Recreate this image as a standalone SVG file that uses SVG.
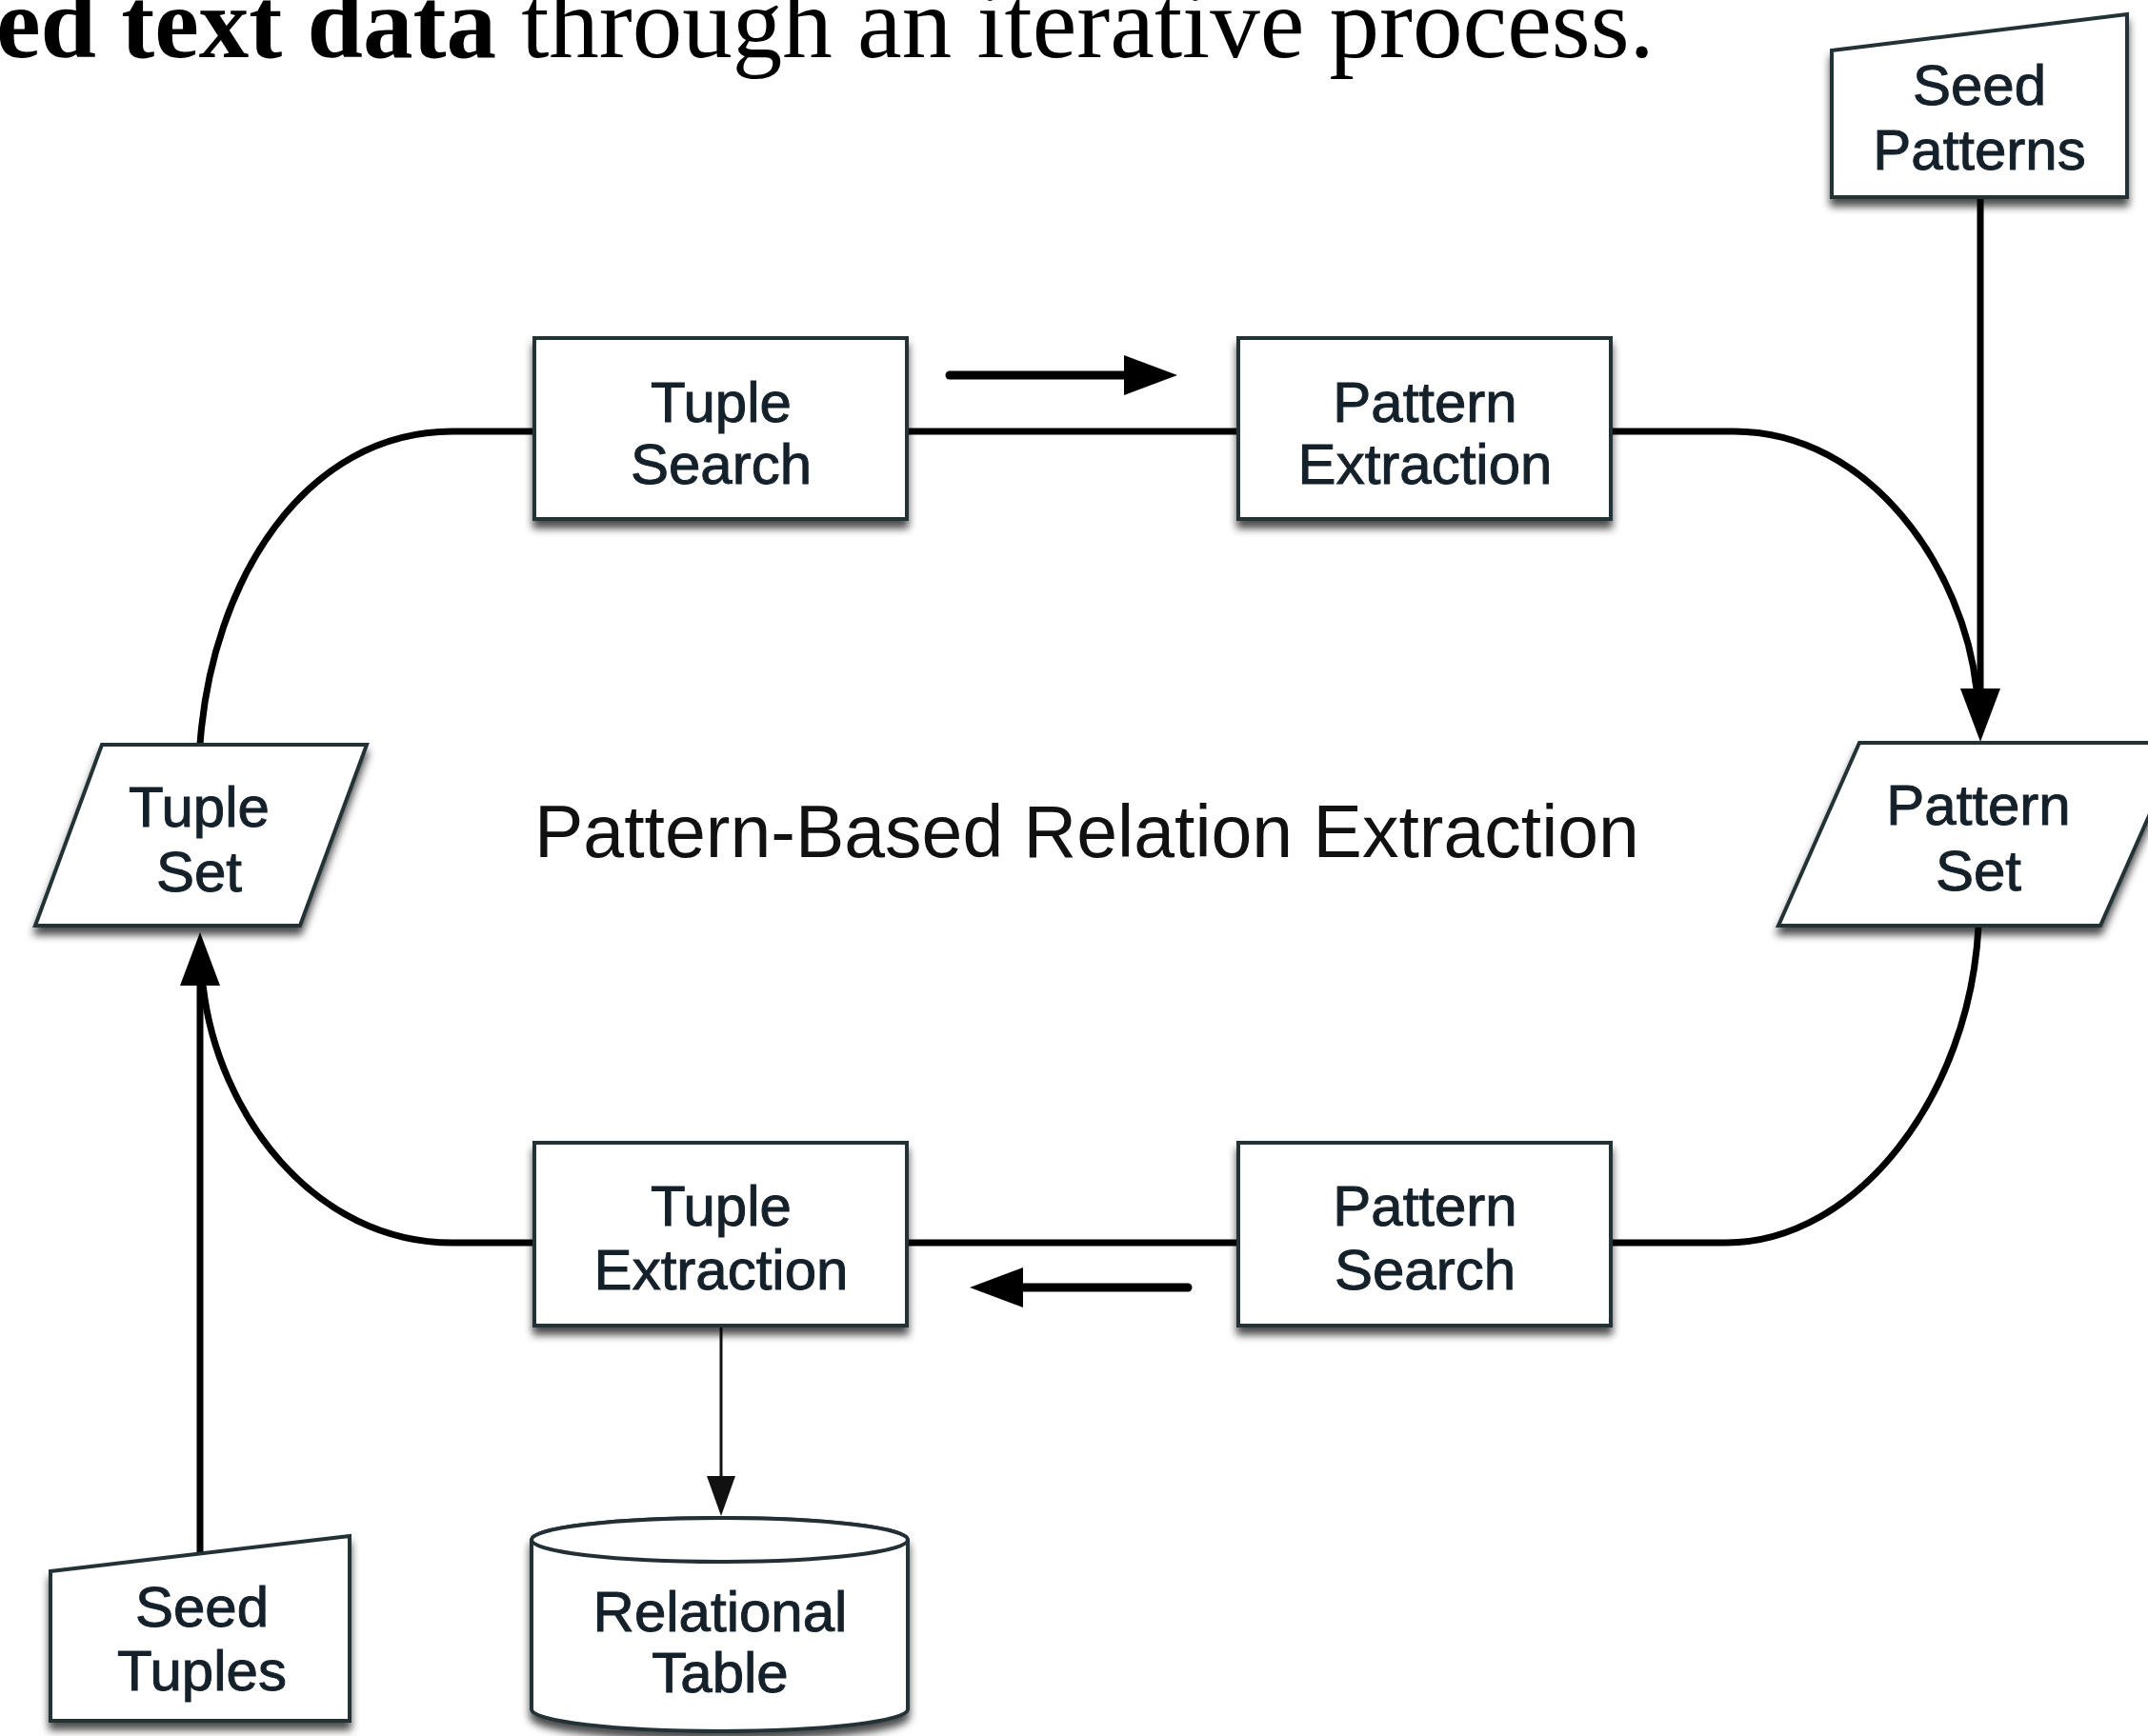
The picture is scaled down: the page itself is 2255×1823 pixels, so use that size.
<svg xmlns="http://www.w3.org/2000/svg" width="2255" height="1823" viewBox="0 0 2255 1823">
<defs>
<style>
.node{fill:#fff;stroke:#223036;stroke-width:4;stroke-linejoin:miter;filter:url(#sh)}
.lbl{font-family:"Liberation Sans",Arial,sans-serif;font-size:60px;fill:#15212a;stroke:#15212a;stroke-width:1;text-anchor:middle}
.conn{fill:none;stroke:#000;stroke-width:7}
.deco{fill:none;stroke:#000;stroke-width:9;stroke-linecap:round}
.thin{fill:none;stroke:#111;stroke-width:3}
</style>
<filter id="sh" x="-10%" y="-10%" width="120%" height="130%">
<feDropShadow dx="0" dy="8" stdDeviation="4" flood-color="#000" flood-opacity="0.7"/>
</filter>
<marker id="ah" markerUnits="userSpaceOnUse" viewBox="0 0 56 42" markerWidth="56" markerHeight="42" refX="35" refY="21" orient="auto">
<path d="M0,0 L56,21 L0,42 z" fill="#000"/>
</marker>
<marker id="as" markerUnits="userSpaceOnUse" viewBox="0 0 42 30" markerWidth="42" markerHeight="30" refX="22" refY="15" orient="auto">
<path d="M0,0 L42,15 L0,30 z" fill="#111"/>
</marker>
</defs>
<rect width="2255" height="1823" fill="#fff"/>

<text x="-4" y="60" font-family="'Liberation Serif','Times New Roman',serif" font-size="105" fill="#000"><tspan font-weight="bold">ed text data</tspan> through an iterative process.</text>

<text x="561" y="900" font-family="'Liberation Sans',Arial,sans-serif" font-size="77" fill="#111">Pattern-Based Relation Extraction</text>

<g id="connectors">
<path class="conn" d="M210,782 C222,610 320,453 475,453 L561,453"/>
<path class="conn" d="M952,453 L1300,453"/>
<path class="conn" d="M1691,453 L1820,453 C1965,453 2062,600 2075,724"/>
<path class="conn" d="M2077,973 C2068,1150 1950,1305 1812,1305 L1691,1305"/>
<path class="conn" d="M1300,1305 L952,1305"/>
<path class="conn" d="M561,1305 L475,1305 C330,1305 228,1170 213,1034"/>
<path class="conn" d="M2079,207 L2079,758" marker-end="url(#ah)"/>
<path class="conn" d="M210,1632 L210,1000" marker-end="url(#ah)"/>
<path class="thin" d="M757,1392 L757,1572" marker-end="url(#as)"/>
<path class="deco" d="M997,394 L1215,394" marker-end="url(#ah)"/>
<path class="deco" d="M1247,1352 L1039,1352" marker-end="url(#ah)"/>
</g>

<g id="seed-patterns">
<polygon class="node" points="1923,53 2233,15 2233,207 1923,207"/>
<text class="lbl" x="2078" y="110">Seed</text>
<text class="lbl" x="2078" y="178">Patterns</text>
</g>

<g id="tuple-search">
<rect class="node" x="561" y="355" width="391" height="190"/>
<text class="lbl" x="757" y="443">Tuple</text>
<text class="lbl" x="757" y="508">Search</text>
</g>

<g id="pattern-extraction">
<rect class="node" x="1300" y="355" width="391" height="190"/>
<text class="lbl" x="1496" y="443">Pattern</text>
<text class="lbl" x="1496" y="508">Extraction</text>
</g>

<g id="tuple-set">
<polygon class="node" points="107,782 385,782 315,972 37,972"/>
<text class="lbl" x="209" y="868">Tuple</text>
<text class="lbl" x="209" y="936">Set</text>
</g>

<g id="pattern-set">
<polygon class="node" points="1952,780 2290,780 2205,972 1867,972"/>
<text class="lbl" x="2077" y="866">Pattern</text>
<text class="lbl" x="2077" y="935">Set</text>
</g>

<g id="tuple-extraction">
<rect class="node" x="561" y="1200" width="391" height="192"/>
<text class="lbl" x="757" y="1287">Tuple</text>
<text class="lbl" x="757" y="1354">Extraction</text>
</g>

<g id="pattern-search">
<rect class="node" x="1300" y="1200" width="391" height="192"/>
<text class="lbl" x="1496" y="1287">Pattern</text>
<text class="lbl" x="1496" y="1354">Search</text>
</g>

<g id="seed-tuples">
<polygon class="node" points="53,1650 367,1613 367,1807 53,1807"/>
<text class="lbl" x="212" y="1708">Seed</text>
<text class="lbl" x="212" y="1775">Tuples</text>
</g>

<g id="relational-table">
<path class="node" d="M558,1617 L558,1795 A197.5,23 0 0 0 953,1795 L953,1617 A197.5,23 0 0 0 558,1617 Z"/>
<ellipse cx="755.5" cy="1617" rx="197.5" ry="23" fill="#fff" stroke="#223036" stroke-width="4"/>
<text class="lbl" x="756" y="1713">Relational</text>
<text class="lbl" x="756" y="1777">Table</text>
</g>
</svg>
